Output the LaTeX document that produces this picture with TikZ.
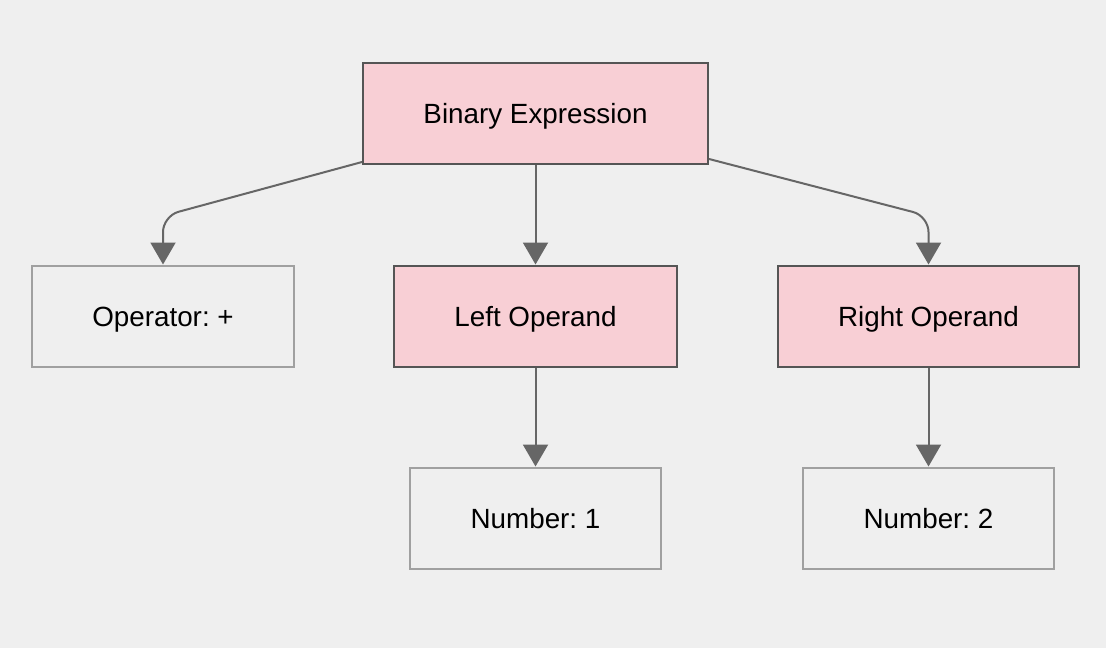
\documentclass[tikz,border=0pt]{standalone}
\usepackage{fontspec}
\setmainfont{Liberation Sans}
\usetikzlibrary{arrows.meta}
\definecolor{bg}{HTML}{EFEFEF}
\definecolor{pinkfill}{HTML}{F8CFD5}
\definecolor{darkline}{HTML}{555555}
\definecolor{lightline}{HTML}{A0A0A0}
\definecolor{edgegray}{HTML}{666666}
\frenchspacing
\begin{document}
\begin{tikzpicture}[x=0.5pt,y=-0.5pt,
		box/.style={draw, line width=1pt, minimum height=50.5pt, inner sep=0pt, text height=10pt, text depth=0pt, font=\fontsize{13.9}{16}\selectfont},
		pinkbox/.style={box, fill=pinkfill, draw=darkline},
		plainbox/.style={box, fill=bg, draw=lightline},
		edge/.style={draw=edgegray, line width=1pt, -{Triangle[width=12.5pt,length=11pt]}}]
		\fill [bg] (0,0) rectangle (1106,648);
		\useasboundingbox (0,0) rectangle (1106,648);
		\node [pinkbox, minimum width=172.5pt] (bin) at (535.5,113.5) {Binary Expression};
		\node [plainbox, minimum width=131pt] (op) at (163,316) {Operator: +};
		\node [pinkbox, minimum width=141.5pt] (left) at (535.5,316) {Left Operand};
		\node [pinkbox, minimum width=150.5pt] (right) at (928.5,316) {Right Operand};
		\node [plainbox, minimum width=125.5pt] (num1) at (535.5,518) {Number: 1};
		\node [plainbox, minimum width=125.5pt] (num2) at (928.5,518) {Number: 2};
		\draw [edge, rounded corners=8pt] ([yshift=1.5pt]bin.south west) -- (163,216) -- (op.north);
		\draw [edge, rounded corners=8pt] ([yshift=3pt]bin.south east) -- (928.5,216) -- (right.north);
		\draw [edge] (bin.south) -- (left.north);
		\draw [edge] (left.south) -- (num1.north);
		\draw [edge] (right.south) -- (num2.north);
	\end{tikzpicture}
\end{document}
